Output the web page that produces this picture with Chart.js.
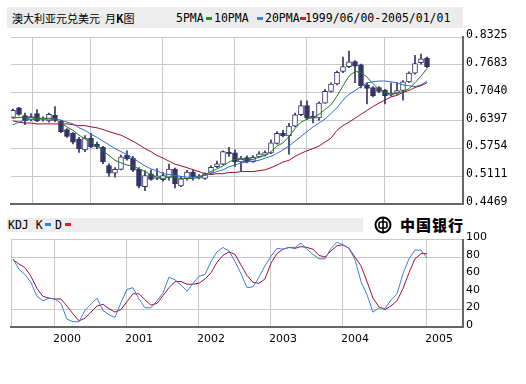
<!DOCTYPE html>
<html lang="zh">
<head>
<meta charset="UTF-8" />
<title>澳大利亚元兑美元 月K图</title>
<script src="https://cdn.jsdelivr.net/npm/chart.js@4"></script>
<style>
  body { margin: 0; background: #fff; }
  .wrap { position: relative; width: 526px; height: 384px; overflow: hidden; color: #000;
          font-family: 'DejaVu Sans Mono', monospace; }
  .band { position: absolute; background: #ececec; }
  .txt { position: absolute; font-size: 11.5px; line-height: 14px; white-space: nowrap; }
  .key { position: absolute; width: 6px; height: 3px; }
  .logo { position: absolute; left: 374px; top: 214px; display: flex; align-items: center; }
  .logo span { font-family: 'Noto Sans CJK SC', sans-serif; font-weight: 900; font-size: 15px;
               letter-spacing: 1px; margin-left: 8px; }
  canvas { position: absolute; left: 0; }
</style>
</head>
<body>
<div class="wrap">
  <div class="band" style="left:7px;top:7px;width:456px;height:21px"></div>
  <div class="txt" style="left:12px;top:11px;font-family:'Noto Sans CJK SC',sans-serif;font-size:11px">澳大利亚元兑美元&nbsp;&nbsp;月<b>K</b>图</div>
  <div class="txt" style="left:176px;top:11px">5PMA</div>
  <div class="key" style="left:206px;top:17px;background:#2a8a2a"></div>
  <div class="txt" style="left:214px;top:11px">10PMA</div>
  <div class="key" style="left:257px;top:17px;background:#3b7fd9"></div>
  <div class="txt" style="left:265px;top:11px">20PMA</div>
  <div class="key" style="left:300px;top:17px;background:#cc2233"></div>
  <div class="txt" style="left:305px;top:11px">1999/06/00-2005/01/01</div>

  <div class="band" style="left:7px;top:218px;width:356px;height:14px"></div>
  <div class="txt" style="left:8px;top:218px">KDJ K</div>
  <div class="key" style="left:45px;top:223px;background:#3b7fd9"></div>
  <div class="txt" style="left:55px;top:218px">D</div>
  <div class="key" style="left:65px;top:223px;background:#cc2233"></div>

  <div class="logo">
    <svg width="18" height="18" viewBox="0 0 18 18">
      <circle cx="9" cy="9" r="7.5" fill="none" stroke="#000" stroke-width="2"/>
      <rect x="5" y="6" width="8" height="6" rx="1.5" fill="none" stroke="#000" stroke-width="1.6"/>
      <line x1="9" y1="1.5" x2="9" y2="16.5" stroke="#000" stroke-width="1.6"/>
    </svg>
    <span>中国银行</span>
  </div>

  <canvas id="kline" width="526" height="214" style="top:0"></canvas>
  <canvas id="kdj" width="526" height="154" style="top:230px"></canvas>
</div>

<script>
// monthly candles 1999/06 .. 2005/01 (as drawn)
const open = [0.647,0.669,0.651,0.641,0.656,0.643,0.639,0.652,0.638,0.619,
  0.610,0.597,0.572,0.599,0.585,0.578,0.536,0.518,0.527,0.560,
  0.553,0.527,0.487,0.517,0.506,0.503,0.509,0.528,0.489,0.505,
  0.521,0.507,0.506,0.518,0.533,0.539,0.567,0.565,0.544,0.554,
  0.545,0.556,0.560,0.565,0.587,0.610,0.604,0.627,0.653,0.674,
  0.650,0.646,0.680,0.707,0.724,0.753,0.764,0.776,0.768,0.722,
  0.716,0.716,0.710,0.698,0.703,0.709,0.729,0.749,0.773,0.784];
const close = [0.663,0.654,0.639,0.649,0.639,0.645,0.654,0.640,0.614,0.603,
  0.590,0.574,0.599,0.579,0.579,0.544,0.518,0.527,0.556,0.551,
  0.525,0.488,0.513,0.504,0.512,0.513,0.528,0.494,0.505,0.521,
  0.509,0.512,0.517,0.532,0.540,0.568,0.563,0.544,0.553,0.545,
  0.555,0.563,0.566,0.588,0.610,0.604,0.627,0.653,0.674,0.645,
  0.645,0.680,0.707,0.724,0.751,0.764,0.775,0.765,0.720,0.714,
  0.697,0.707,0.697,0.703,0.709,0.729,0.749,0.771,0.782,0.764];
const high = [0.666,0.670,0.657,0.656,0.665,0.648,0.657,0.672,0.640,0.621,
  0.612,0.601,0.605,0.610,0.590,0.580,0.540,0.531,0.560,0.570,
  0.557,0.531,0.524,0.526,0.529,0.520,0.539,0.530,0.510,0.525,
  0.526,0.515,0.519,0.535,0.546,0.570,0.578,0.572,0.557,0.558,
  0.559,0.568,0.570,0.595,0.614,0.617,0.633,0.657,0.685,0.685,
  0.661,0.683,0.712,0.727,0.754,0.786,0.800,0.778,0.770,0.727,
  0.718,0.718,0.712,0.727,0.727,0.732,0.752,0.790,0.793,0.786];
const low = [0.645,0.652,0.630,0.639,0.637,0.638,0.636,0.637,0.612,0.601,
  0.586,0.566,0.568,0.577,0.575,0.540,0.511,0.509,0.526,0.548,
  0.522,0.484,0.478,0.502,0.503,0.500,0.502,0.484,0.487,0.502,
  0.502,0.505,0.504,0.516,0.531,0.538,0.557,0.533,0.524,0.542,
  0.543,0.554,0.558,0.563,0.585,0.602,0.562,0.625,0.651,0.642,
  0.634,0.640,0.679,0.705,0.722,0.750,0.762,0.727,0.715,0.678,
  0.694,0.704,0.678,0.696,0.700,0.687,0.727,0.747,0.770,0.762];

const ma5 = [0.645,0.647,0.647,0.647,0.645,0.645,0.645,0.643,0.634,0.625,
  0.617,0.606,0.597,0.588,0.581,0.570,0.559,0.548,0.542,0.537,
  0.535,0.528,0.522,0.515,0.509,0.506,0.509,0.509,0.506,0.506,
  0.506,0.509,0.515,0.522,0.528,0.535,0.544,0.550,0.550,0.550,
  0.550,0.555,0.559,0.568,0.581,0.588,0.603,0.621,0.636,0.643,
  0.647,0.654,0.665,0.676,0.696,0.720,0.742,0.753,0.751,0.740,
  0.725,0.711,0.705,0.700,0.703,0.707,0.713,0.727,0.742,0.760];
const ma10 = [0.630,0.636,0.641,0.643,0.643,0.643,0.643,0.643,0.641,0.636,
  0.632,0.623,0.617,0.608,0.601,0.592,0.584,0.575,0.568,0.561,
  0.553,0.544,0.535,0.528,0.524,0.517,0.515,0.513,0.511,0.509,
  0.509,0.511,0.513,0.517,0.522,0.526,0.533,0.537,0.542,0.544,
  0.546,0.548,0.553,0.557,0.564,0.572,0.581,0.592,0.603,0.614,
  0.625,0.634,0.643,0.656,0.669,0.687,0.700,0.709,0.718,0.727,
  0.729,0.731,0.731,0.729,0.727,0.722,0.720,0.718,0.722,0.731];
const ma20 = [0.639,0.636,0.634,0.634,0.632,0.632,0.632,0.632,0.632,0.632,
  0.630,0.628,0.628,0.625,0.623,0.619,0.614,0.610,0.606,0.599,
  0.592,0.584,0.575,0.568,0.559,0.553,0.546,0.539,0.535,0.531,
  0.526,0.522,0.517,0.515,0.517,0.517,0.520,0.520,0.522,0.522,
  0.522,0.524,0.526,0.531,0.537,0.544,0.548,0.557,0.564,0.570,
  0.575,0.581,0.590,0.599,0.617,0.628,0.636,0.645,0.654,0.663,
  0.672,0.680,0.687,0.694,0.698,0.705,0.709,0.716,0.720,0.727];

const kLine = [78,66,60,51,35,30,33,32,27,9,
  6,6,19,26,33,19,14,11,28,43,
  45,32,22,22,30,39,57,54,48,41,
  50,58,60,75,86,91,87,75,61,45,
  46,57,70,81,90,89,91,91,96,89,
  83,78,78,90,97,94,90,77,52,37,
  17,22,21,31,38,61,78,88,88,79];
const dLine = [77,72,68,58,44,35,33,32,32,24,
  15,7,10,17,24,26,21,17,20,29,
  38,38,31,25,27,36,45,52,52,49,
  49,50,55,62,74,82,86,83,71,59,
  51,50,55,73,84,89,91,90,92,91,
  89,82,80,87,93,94,90,80,70,52,
  33,23,20,24,30,44,62,78,84,84];

const priceTicks = [0.8325, 0.7683, 0.7040, 0.6397, 0.5754, 0.5111, 0.4469];
const kdjTicks = [0, 20, 40, 60, 80, 100];
const yearIdx = [7, 19, 31, 43, 55, 69];
const yearLabels = ['2000', '2001', '2002', '2003', '2004', '2005'];

const X_MIN = -0.33, X_MAX = 75;
const GRID = '#c8c8c8', AXIS = '#666', NAVY = '#333366';

const pts = arr => arr.map((v, i) => ({ x: i, y: v }));

function xScale(showLabels) {
  return {
    type: 'linear', min: X_MIN, max: X_MAX, offset: false,
    afterBuildTicks: s => { s.ticks = [X_MIN, ...yearIdx].map(v => ({ value: v })); },
    afterFit: s => { s.height = showLabels ? 57 : 2; },
    grid: { color: GRID, drawTicks: false },
    border: { display: true, color: AXIS, width: 2 },
    ticks: {
      display: showLabels, autoSkip: false, maxRotation: 0, padding: 6, labelOffset: 12,
      color: '#000', font: { family: 'DejaVu Sans', size: 11 },
      callback: v => { const k = yearIdx.indexOf(v); return k < 0 ? '' : yearLabels[k]; }
    }
  };
}

function line(data, color) {
  return { type: 'line', data: pts(data), borderColor: color, borderWidth: 1,
           pointRadius: 0, tension: 0, order: 1 };
}

// candles: wick bars behind, body bars on top
new Chart(document.getElementById('kline'), {
  type: 'bar',
  data: {
    datasets: [
      { data: low.map((v, i) => ({ x: i, y: [v, high[i]] })), backgroundColor: NAVY,
        barThickness: 1, grouped: false, order: 3 },
      { data: open.map((v, i) => ({ x: i, y: [v, close[i]] })),
        backgroundColor: ctx => close[ctx.dataIndex] >= open[ctx.dataIndex] ? '#fff' : NAVY,
        borderColor: NAVY, borderWidth: 1, borderSkipped: false,
        barThickness: 5, grouped: false, order: 2 },
      line(ma5, '#1f7a1f'),
      line(ma10, '#2f6fd0'),
      line(ma20, '#a0102a')
    ]
  },
  options: {
    responsive: false, animation: false,
    layout: { padding: { left: 11, top: 37, right: 0, bottom: 0 } },
    plugins: { legend: { display: false }, tooltip: { enabled: false } },
    scales: {
      x: xScale(false),
      y: {
        position: 'right', min: 0.4469, max: 0.8325,
        afterBuildTicks: s => { s.ticks = priceTicks.map(v => ({ value: v })); },
        afterFit: s => { s.width = 63; },
        grid: { color: GRID, drawTicks: false },
        border: { display: true, color: AXIS, width: 2 },
        ticks: { padding: 3, labelOffset: -2, color: '#000',
                 font: { family: 'DejaVu Sans Mono', size: 11.5 },
                 callback: v => v.toFixed(4) }
      }
    }
  }
});

new Chart(document.getElementById('kdj'), {
  type: 'line',
  data: {
    datasets: [
      line(kLine, '#3a7fe0'),
      line(dLine, '#a3102e')
    ]
  },
  options: {
    responsive: false, animation: false,
    layout: { padding: { left: 11, top: 7, right: 0, bottom: 0 } },
    plugins: { legend: { display: false }, tooltip: { enabled: false } },
    scales: {
      x: xScale(true),
      y: {
        position: 'right', min: 0, max: 100,
        afterBuildTicks: s => { s.ticks = kdjTicks.map(v => ({ value: v })); },
        afterFit: s => { s.width = 63; },
        grid: { drawTicks: false,
                color: ctx => [20, 80, 100].includes(ctx.tick && ctx.tick.value) ? GRID : 'rgba(0,0,0,0)' },
        border: { display: true, color: AXIS, width: 2 },
        ticks: { padding: 3, labelOffset: -2, color: '#000',
                 font: { family: 'DejaVu Sans', size: 11 } }
      }
    }
  }
});
</script>
</body>
</html>
